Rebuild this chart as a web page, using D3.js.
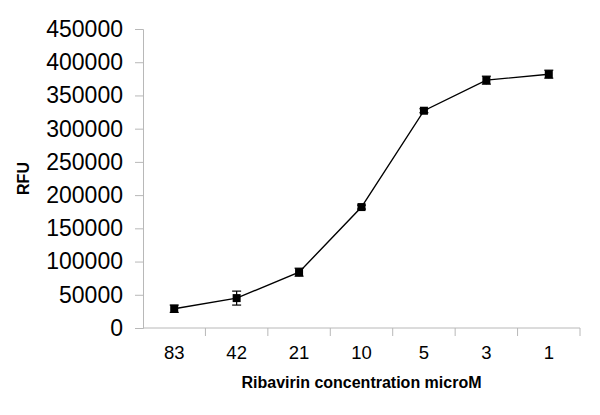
<!DOCTYPE html>
<html>
<head>
<meta charset="utf-8">
<script src="https://cdn.jsdelivr.net/npm/d3@7"></script>
<style>
  body { margin: 0; background: #fff; }
  text { font-family: "Liberation Sans", Arial, sans-serif; fill: #000; }
</style>
</head>
<body>
<svg id="chart" width="600" height="415"></svg>
<script>
// data
let concentrations = ["83", "42", "21", "10", "5", "3", "1"];
let rfuValues = [29000, 45000, 84000, 182000, 327000, 373000, 382000];
let rfuErrors = [5500, 10500, 6000, 3000, 3000, 6000, 6000];
let yTicks = [0, 50000, 100000, 150000, 200000, 250000, 300000, 350000, 400000, 450000];

let margin = { left: 143, right: 20, top: 29, bottom: 87 };
let width = 600, height = 415;

let svg = d3.select("#chart");

let xScale = d3.scaleBand()
               .domain(concentrations)
               .range([margin.left, width - margin.right]);
let yScale = d3.scaleLinear()
               .domain([0, 450000])
               .range([height - margin.bottom, margin.top]);

let axisColor = "#b8b8b8";

// y axis
let yAxis = svg.append("g")
               .attr("transform", "translate(" + margin.left + ",0)")
               .call(d3.axisLeft(yScale).tickValues(yTicks).tickSize(8).tickPadding(12).tickFormat(d3.format("d")));
yAxis.select(".domain").attr("stroke", axisColor);
yAxis.selectAll(".tick line").attr("stroke", axisColor);
yAxis.selectAll(".tick text")
     .style("font-size", "23px")
     .style("font-family", "'Liberation Sans', Arial, sans-serif")
     .attr("fill", "#000");

// x axis, ticks at band edges
let xAxisG = svg.append("g")
                .attr("transform", "translate(0," + yScale(0) + ")");
xAxisG.append("line")
      .attr("x1", margin.left).attr("x2", width - margin.right)
      .attr("stroke", axisColor);
xAxisG.selectAll(".xtick")
      .data(concentrations)
      .join("line")
      .attr("class", "xtick")
      .attr("x1", d => xScale(d) + xScale.bandwidth())
      .attr("x2", d => xScale(d) + xScale.bandwidth())
      .attr("y1", 0).attr("y2", 8)
      .attr("stroke", axisColor);
xAxisG.selectAll(".xlabel")
      .data(concentrations)
      .join("text")
      .attr("class", "xlabel")
      .attr("x", d => xScale(d) + xScale.bandwidth() / 2)
      .attr("y", 31)
      .attr("text-anchor", "middle")
      .style("font-size", "18.5px")
      .text(d => d);

// axis titles
svg.append("text")
   .attr("x", (margin.left + width - margin.right) / 2)
   .attr("y", 388)
   .attr("text-anchor", "middle")
   .style("font-size", "16px")
   .style("font-weight", "bold")
   .text("Ribavirin concentration microM");

svg.append("text")
   .attr("transform", "translate(29," + (margin.top + height - margin.bottom) / 2 + ") rotate(-90)")
   .attr("text-anchor", "middle")
   .style("font-size", "16px")
   .style("font-weight", "bold")
   .text("RFU");

let points = concentrations.map((c, i) => ({ c: c, v: rfuValues[i], e: rfuErrors[i] }));
function cx(d) { return xScale(d.c) + xScale.bandwidth() / 2 }

// line
svg.append("path")
   .datum(points)
   .attr("fill", "none")
   .attr("stroke", "#000")
   .attr("stroke-width", 1.4)
   .attr("d", d3.line().x(d => cx(d)).y(d => yScale(d.v)));

// error bars
let errG = svg.append("g").attr("stroke", "#000").attr("stroke-width", 1.2);
errG.selectAll(".ev")
    .data(points)
    .join("line")
    .attr("x1", d => cx(d)).attr("x2", d => cx(d))
    .attr("y1", d => yScale(d.v + d.e)).attr("y2", d => yScale(d.v - d.e));
errG.selectAll(".ecTop")
    .data(points)
    .join("line")
    .attr("class", "ecTop")
    .attr("x1", d => cx(d) - 4.5).attr("x2", d => cx(d) + 4.5)
    .attr("y1", d => yScale(d.v + d.e)).attr("y2", d => yScale(d.v + d.e));
errG.selectAll(".ecBot")
    .data(points)
    .join("line")
    .attr("class", "ecBot")
    .attr("x1", d => cx(d) - 4.5).attr("x2", d => cx(d) + 4.5)
    .attr("y1", d => yScale(d.v - d.e)).attr("y2", d => yScale(d.v - d.e));

// markers
svg.selectAll(".marker")
   .data(points)
   .join("rect")
   .attr("class", "marker")
   .attr("x", d => cx(d) - 4)
   .attr("y", d => yScale(d.v) - 4)
   .attr("width", 8)
   .attr("height", 8)
   .attr("fill", "#000");
</script>
</body>
</html>
